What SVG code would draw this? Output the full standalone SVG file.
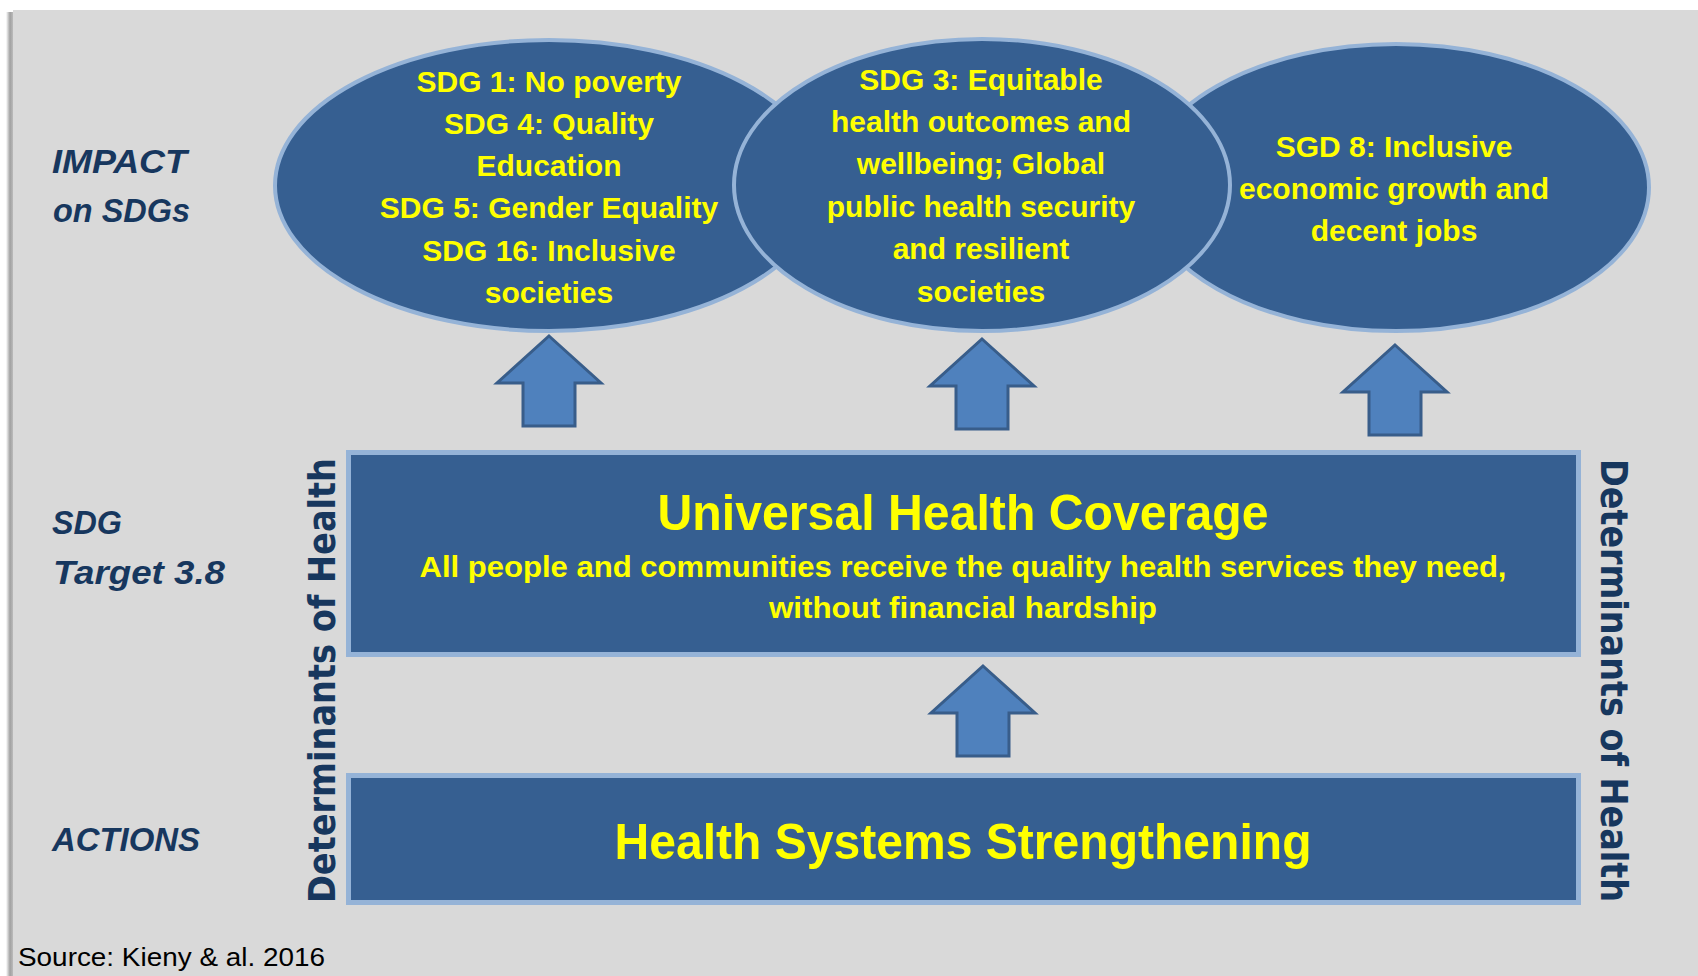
<svg xmlns="http://www.w3.org/2000/svg" width="1698" height="976" viewBox="0 0 1698 976">
<defs>
<style>
.ell{fill:#365F91;stroke:#95B3D7;stroke-width:4}
.box{fill:#365F91;stroke:#95B3D7;stroke-width:5}
.yt{font-family:"Liberation Sans",Arial,sans-serif;font-weight:bold;fill:#FFFF00;text-anchor:middle}
.e{font-size:30px}
.lbl{font-family:"Liberation Sans",Arial,sans-serif;font-weight:bold;font-style:italic;font-size:34px;fill:#17375E}
.vt{font-family:"DejaVu Sans","Liberation Sans",sans-serif;font-weight:bold;font-size:38px;fill:#17375E}
.arr{fill:#4F81BD;stroke:#385D8A;stroke-width:3;stroke-linejoin:miter}
</style>
<linearGradient id="sh" x1="0" y1="0" x2="1" y2="0">
<stop offset="0" stop-color="#ffffff"/>
<stop offset="0.5" stop-color="#a0a0a0"/>
<stop offset="1" stop-color="#c4c4c4"/>
</linearGradient>
<path id="arrow" class="arr" d="M0,3 L52,50 L26,50 L26,93 L-26,93 L-26,50 L-52,50 Z"/>
</defs>
<rect x="0" y="0" width="1698" height="976" fill="#ffffff"/>
<rect x="6" y="12" width="8" height="964" fill="url(#sh)"/>
<rect x="13" y="10" width="1685" height="966" fill="#D9D9D9"/>

<g id="label-impact">
<text class="lbl" x="52" y="173" textLength="135" lengthAdjust="spacingAndGlyphs">IMPACT</text>
<text class="lbl" x="53" y="222" textLength="137" lengthAdjust="spacingAndGlyphs">on SDGs</text>
</g>
<g id="label-target">
<text class="lbl" x="52" y="534" textLength="70" lengthAdjust="spacingAndGlyphs">SDG</text>
<text class="lbl" x="53" y="584" textLength="172" lengthAdjust="spacingAndGlyphs">Target 3.8</text>
</g>
<g id="label-actions">
<text class="lbl" x="52" y="851" textLength="148" lengthAdjust="spacingAndGlyphs">ACTIONS</text>
</g>

<g id="sdg-1-4-5-16">
<ellipse class="ell" cx="549" cy="185.5" rx="274" ry="145.5"/>
<text class="yt e" x="549" y="92">SDG 1: No poverty</text>
<text class="yt e" x="549" y="134">SDG 4: Quality</text>
<text class="yt e" x="549" y="176">Education</text>
<text class="yt e" x="549" y="218">SDG 5: Gender Equality</text>
<text class="yt e" x="549" y="261">SDG 16: Inclusive</text>
<text class="yt e" x="549" y="303">societies</text>
</g>
<g id="sdg-8">
<ellipse class="ell" cx="1396" cy="187.5" rx="253" ry="143.5"/>
<text class="yt e" x="1394" y="157">SGD 8: Inclusive</text>
<text class="yt e" x="1394" y="199">economic growth and</text>
<text class="yt e" x="1394" y="241">decent jobs</text>
</g>
<g id="sdg-3">
<ellipse class="ell" cx="982" cy="185" rx="248" ry="146"/>
<text class="yt e" x="981" y="90">SDG 3: Equitable</text>
<text class="yt e" x="981" y="132">health outcomes and</text>
<text class="yt e" x="981" y="174">wellbeing; Global</text>
<text class="yt e" x="981" y="217">public health security</text>
<text class="yt e" x="981" y="259">and resilient</text>
<text class="yt e" x="981" y="302">societies</text>
</g>

<g id="uhc">
<rect class="box" x="348.5" y="452.5" width="1230" height="202"/>
<text class="yt" x="963" y="530" font-size="50" textLength="611" lengthAdjust="spacingAndGlyphs">Universal Health Coverage</text>
<text class="yt" x="963" y="577" font-size="30" textLength="1087" lengthAdjust="spacingAndGlyphs">All people and communities receive the quality health services they need,</text>
<text class="yt" x="963" y="618" font-size="30" textLength="388" lengthAdjust="spacingAndGlyphs">without financial hardship</text>
</g>

<g id="hss">
<rect class="box" x="348.5" y="775.5" width="1230" height="127"/>
<text class="yt" x="963" y="859" font-size="50" textLength="697" lengthAdjust="spacingAndGlyphs">Health Systems Strengthening</text>
</g>

<g id="determinants-left">
<text class="vt" transform="translate(335,903) rotate(-90)" textLength="445" lengthAdjust="spacingAndGlyphs">Determinants of Health</text>
</g>
<g id="determinants-right">
<text class="vt" transform="translate(1601,459) rotate(90)" textLength="443" lengthAdjust="spacingAndGlyphs">Determinants of Health</text>
</g>

<g id="connectors">
<use href="#arrow" x="549" y="333"/>
<use href="#arrow" x="982" y="336"/>
<use href="#arrow" x="1395" y="342"/>
<use href="#arrow" x="983" y="663"/>
</g>

<g id="source">
<text x="18" y="966" font-family="'Liberation Sans',Arial,sans-serif" font-size="26" fill="#000000" textLength="307" lengthAdjust="spacingAndGlyphs">Source: Kieny &amp; al. 2016</text>
</g>
</svg>
